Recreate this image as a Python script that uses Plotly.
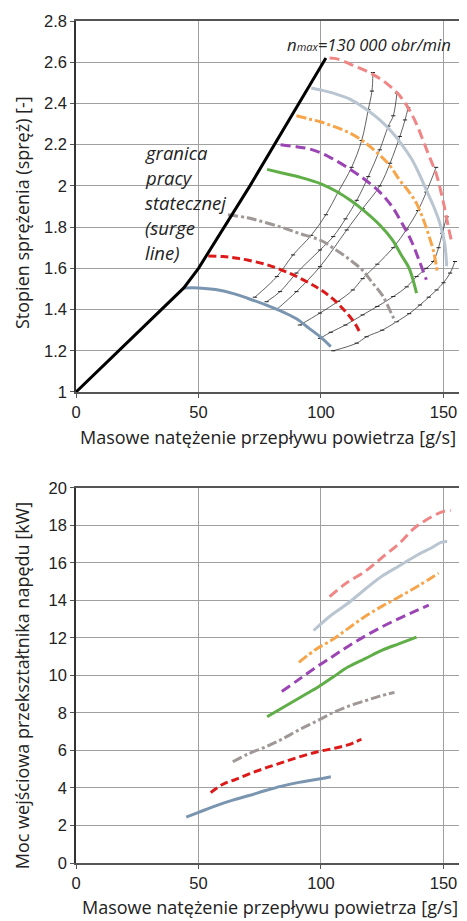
import plotly.graph_objects as go

# ---------------- data: top chart (pressure ratio vs mass flow) ----------------
surge_x = [0, 35, 44, 50, 71, 102]
surge_y = [1.0, 1.40, 1.505, 1.6, 2.0, 2.62]

blue_x = [44, 50, 57, 65, 70, 78, 85, 90, 95, 100, 104]
blue_y = [1.505, 1.505, 1.497, 1.475, 1.455, 1.42, 1.385, 1.355, 1.31, 1.265, 1.22]

red_x = [54, 60, 65, 70, 78, 87, 95, 100, 105, 110, 114, 116]
red_y = [1.66, 1.657, 1.65, 1.64, 1.617, 1.577, 1.53, 1.495, 1.45, 1.39, 1.33, 1.285]

gray_x = [62, 70, 78, 85, 91, 100, 106, 112, 117, 121, 125, 128, 130.5]
gray_y = [1.86, 1.845, 1.82, 1.795, 1.77, 1.735, 1.69, 1.64, 1.59, 1.53, 1.47, 1.40, 1.335]

green_x = [78, 85, 92, 100, 106, 112, 118, 124, 129, 133, 136, 139]
green_y = [2.08, 2.06, 2.04, 2.01, 1.975, 1.93, 1.875, 1.81, 1.74, 1.66, 1.6, 1.48]

purple_x = [83.5, 90, 95, 100, 105, 112, 118, 124, 129, 133, 137, 140, 143]
purple_y = [2.2, 2.19, 2.18, 2.16, 2.13, 2.08, 2.03, 1.97, 1.9, 1.82, 1.73, 1.64, 1.545]

orange_x = [90, 95, 100, 106, 112, 118, 123, 128, 132, 136, 139, 142, 144, 146, 147.5]
orange_y = [2.34, 2.325, 2.31, 2.285, 2.255, 2.21, 2.16, 2.1, 2.03, 1.97, 1.915, 1.83, 1.76, 1.68, 1.58]

light_x = [96, 100, 105, 112, 118, 124, 129, 133, 137, 140, 143, 146, 148.5, 150.5, 151.3]
light_y = [2.475, 2.465, 2.45, 2.42, 2.375, 2.32, 2.26, 2.2, 2.13, 2.06, 1.98, 1.9, 1.82, 1.72, 1.61]

pink_x = [103.5, 107, 112, 117, 122, 127, 132, 136, 139, 142, 145, 147, 149, 150.5, 152, 153.3]
pink_y = [2.62, 2.615, 2.59, 2.565, 2.535, 2.495, 2.44, 2.37, 2.3, 2.21, 2.12, 2.06, 1.97, 1.89, 1.8, 1.73]

# thin constant lines crossing the speed lines
thin1_x = [73, 82, 88.6, 96, 102, 107, 112.5, 116.6, 119.3, 120.8, 121.2]
thin1_y = [1.46, 1.56, 1.665, 1.76, 1.86, 1.97, 2.09, 2.22, 2.37, 2.46, 2.55]
thin2_x = [77.8, 83.3, 90, 99.6, 105, 110, 114.6, 119.3, 124, 127.5, 129.5, 131]
thin2_y = [1.438, 1.487, 1.577, 1.689, 1.754, 1.84, 1.93, 2.045, 2.175, 2.29, 2.34, 2.45]
thin3_x = [81.9, 90, 99.6, 110.5, 117, 124, 128.2, 132.2, 134.3, 135.6]
thin3_y = [1.40, 1.487, 1.608, 1.786, 1.89, 2.0, 2.11, 2.24, 2.32, 2.38]
thin4_x = [91.4, 99.6, 107, 113, 117, 123, 129.5, 135, 139.6, 143, 147]
thin4_y = [1.325, 1.383, 1.44, 1.495, 1.55, 1.62, 1.70, 1.79, 1.88, 1.97, 2.09]
thin5_x = [99.6, 104, 110, 117, 123, 129.5, 135, 139, 143, 145.8, 148, 149.5, 151.3]
thin5_y = [1.26, 1.29, 1.325, 1.374, 1.415, 1.463, 1.51, 1.56, 1.6, 1.633, 1.7, 1.77, 1.85]
thin6_x = [105, 114.6, 118.6, 125, 130.9, 136, 140.4, 144, 147.2, 150, 152.7, 154.7]
thin6_y = [1.2, 1.237, 1.268, 1.30, 1.341, 1.38, 1.422, 1.46, 1.495, 1.53, 1.577, 1.633]

# ---------------- data: bottom chart (input power vs mass flow) ----------------
p_blue_x = [45, 50, 57, 64, 70.7, 77, 84, 91, 98, 104]
p_blue_y = [2.45, 2.7, 3.05, 3.35, 3.6, 3.85, 4.1, 4.3, 4.45, 4.6]
p_red_x = [55, 60, 65, 70.7, 77, 84, 91, 99, 105, 111, 116.5]
p_red_y = [3.75, 4.2, 4.45, 4.75, 5.05, 5.35, 5.65, 5.95, 6.1, 6.3, 6.6]
p_gray_x = [64, 70, 77.5, 84, 91, 98, 104.6, 111, 118, 124, 130]
p_gray_y = [5.4, 5.8, 6.2, 6.6, 7.1, 7.55, 8.0, 8.35, 8.65, 8.9, 9.1]
p_green_x = [78, 85, 92, 99, 105, 111, 118, 125, 132, 139]
p_green_y = [7.8, 8.33, 8.87, 9.4, 9.92, 10.45, 10.9, 11.35, 11.7, 12.05]
p_purple_x = [84, 90, 97, 104.6, 111, 118, 125, 132, 138, 144]
p_purple_y = [9.15, 9.7, 10.35, 11.0, 11.55, 12.1, 12.6, 13.05, 13.4, 13.75]
p_orange_x = [91, 98, 104.6, 111, 118, 125, 132, 140, 148]
p_orange_y = [10.7, 11.4, 11.9, 12.5, 13.15, 13.7, 14.2, 14.8, 15.45]
p_light_x = [97, 104, 111, 118, 125, 132, 139, 145, 149, 151.5]
p_light_y = [12.4, 13.2, 13.85, 14.6, 15.3, 15.85, 16.4, 16.8, 17.1, 17.15]
p_pink_x = [103.5, 110, 118, 125, 132, 138, 145, 150, 153]
p_pink_y = [14.2, 14.9, 15.55, 16.3, 17.05, 17.85, 18.45, 18.75, 18.8]

x_ticks = [0, 50, 100, 150]
top_y_ticks = [1, 1.2, 1.4, 1.6, 1.8, 2, 2.2, 2.4, 2.6, 2.8]
top_y_labels = ["1", "1.2", "1.4", "1.6", "1.8", "2", "2.2", "2.4", "2.6", "2.8"]
bot_y_ticks = [0, 2, 4, 6, 8, 10, 12, 14, 16, 18, 20]

x_title = "Masowe natężenie przepływu powietrza [g/s]"
top_y_title = "Stopien sprężenia (spręż) [-]"
bot_y_title = "Moc wejściowa przekształtnika napędu [kW]"
surge_lines = ["granica", "pracy", "statecznej", "(surge", "line)"]
surge_label_y = [2.16, 2.039, 1.917, 1.796, 1.675]

# ---------------- styles ----------------
speed_styles = [
    ("#7a95b0", "solid", 3),
    ("#dd1a1a", "8px,4px", 3),
    ("#a09896", "10px,3px,3px,3px", 3),
    ("#5fae47", "solid", 3),
    ("#9b44b3", "10px,5px", 3),
    ("#f7a54a", "10px,3px,3px,3px", 3),
    ("#b9c5d1", "solid", 3),
    ("#ef8585", "10px,5px", 3),
]

fig = go.Figure()

# thin lines (top)
for tx, ty in [(thin1_x, thin1_y), (thin2_x, thin2_y), (thin3_x, thin3_y),
               (thin4_x, thin4_y), (thin5_x, thin5_y), (thin6_x, thin6_y)]:
    fig.add_trace(go.Scatter(x=tx, y=ty, mode="lines+markers", xaxis="x", yaxis="y",
                             line=dict(color="#3a3a3a", width=0.8, shape="spline"),
                             marker=dict(symbol="line-ew-open", size=3, color="#222",
                                         line=dict(width=1, color="#222")),
                             showlegend=False, hoverinfo="skip"))

top_series = [(blue_x, blue_y), (red_x, red_y), (gray_x, gray_y), (green_x, green_y),
              (purple_x, purple_y), (orange_x, orange_y), (light_x, light_y), (pink_x, pink_y)]
for (sx, sy), (c, d, w) in zip(top_series, speed_styles):
    fig.add_trace(go.Scatter(x=sx, y=sy, mode="lines", xaxis="x", yaxis="y",
                             line=dict(color=c, dash=d, width=w, shape="spline"),
                             showlegend=False))

fig.add_trace(go.Scatter(x=surge_x, y=surge_y, mode="lines", xaxis="x", yaxis="y",
                         line=dict(color="black", width=3), showlegend=False))

bot_series = [(p_blue_x, p_blue_y), (p_red_x, p_red_y), (p_gray_x, p_gray_y), (p_green_x, p_green_y),
              (p_purple_x, p_purple_y), (p_orange_x, p_orange_y), (p_light_x, p_light_y), (p_pink_x, p_pink_y)]
for (sx, sy), (c, d, w) in zip(bot_series, speed_styles):
    fig.add_trace(go.Scatter(x=sx, y=sy, mode="lines", xaxis="x2", yaxis="y2",
                             line=dict(color=c, dash=d, width=w, shape="spline"),
                             showlegend=False))

tick_font = dict(family="Liberation Sans, Arial", size=16.5, color="#222")
title_font = dict(family="Open Sans", size=18, color="#222")

xcommon = dict(range=[0, 159.6], tickvals=x_ticks, showgrid=True, gridcolor="#a0a0a0",
               gridwidth=1, zeroline=False, showline=True, linecolor="#555", linewidth=1.5,
               mirror=True, ticks="outside", ticklen=4, tickcolor="#555",
               tickfont=tick_font, fixedrange=True)

# page body has an 8px default margin -> figure is offset by 8px
fig.update_layout(
    width=459, height=913,
    margin=dict(l=68, r=0, t=13, b=58),
    paper_bgcolor="white", plot_bgcolor="white",
    showlegend=False,
    xaxis=dict(xcommon, domain=[0, 1], anchor="y"),
    yaxis=dict(domain=[0.5594, 1.0], range=[1, 2.8], tickvals=top_y_ticks, ticktext=top_y_labels,
               showgrid=True, gridcolor="#a0a0a0", zeroline=False, showline=True,
               linecolor="#333", linewidth=1.5, ticks="outside", ticklen=4, tickcolor="#555",
               tickfont=tick_font, anchor="x"),
    xaxis2=dict(xcommon, domain=[0, 1], anchor="y2"),
    yaxis2=dict(domain=[0, 0.4454], range=[0, 20], tickvals=bot_y_ticks,
                showgrid=True, gridcolor="#a0a0a0", zeroline=False, showline=True,
                linecolor="#333", linewidth=1.5, ticks="outside", ticklen=4, tickcolor="#555",
                tickfont=tick_font, anchor="x2"),
)

ann = []
ann.append(dict(text=x_title, xref="paper", yref="paper", x=0.49, y=0.506,
                xanchor="center", yanchor="middle", showarrow=False, font=title_font))
ann.append(dict(text=x_title, xref="paper", yref="paper", x=0.497, y=-0.0523,
                xanchor="center", yanchor="middle", showarrow=False, font=title_font))
ann.append(dict(text=top_y_title, xref="paper", yref="paper", x=-0.138, y=0.772,
                xanchor="center", yanchor="middle", textangle=-90, showarrow=False, font=title_font))
ann.append(dict(text=bot_y_title, xref="paper", yref="paper", x=-0.138, y=0.21,
                xanchor="center", yanchor="middle", textangle=-90, showarrow=False, font=title_font))
for t, yy in zip(surge_lines, surge_label_y):
    ann.append(dict(text="<i>" + t + "</i>", xref="x", yref="y", x=27.4, y=yy,
                    xanchor="left", yanchor="middle", showarrow=False,
                    font=dict(family="Open Sans", size=18.5, color="#222")))
ann.append(dict(text="<i>n<span style='font-size:11px'>max</span>=130 000 obr/min</i>",
                xref="x", yref="y", x=85.4, y=2.684, xanchor="left", yanchor="middle",
                showarrow=False, font=dict(family="Open Sans", size=16.7, color="#222")))
fig.update_layout(annotations=ann)

fig.write_html("out.html")
